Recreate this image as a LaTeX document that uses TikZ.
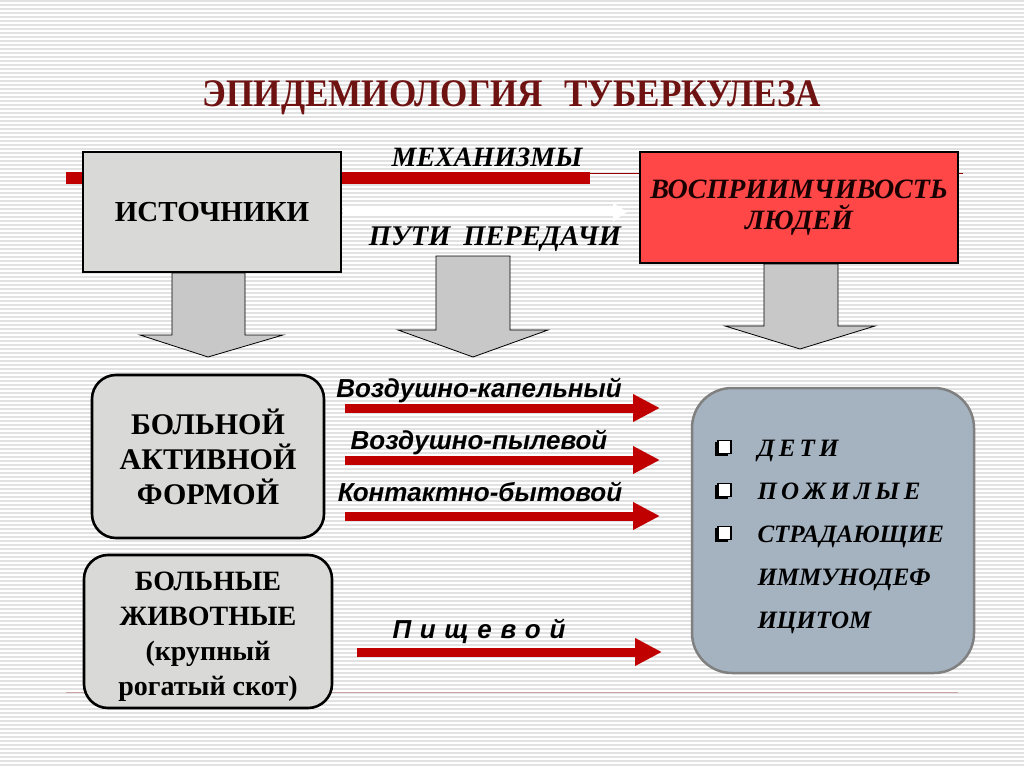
\documentclass[tikz,border=0pt]{standalone}
\usepackage{fontspec}
\setmainfont{Liberation Serif}
\newfontfamily\sansf{Liberation Sans}
\usetikzlibrary{arrows.meta,calc}
\definecolor{stripe}{HTML}{E2E2E2}
\definecolor{titlered}{HTML}{6E1212}
\definecolor{barred}{HTML}{C00000}
\definecolor{boxgray}{HTML}{D9D9D7}
\definecolor{hotred}{HTML}{FF4747}
\definecolor{bluegray}{HTML}{A5B3C1}
\definecolor{blueedge}{HTML}{808080}
\definecolor{blockgray}{HTML}{C8C8C8}
\definecolor{thinline}{HTML}{C9A5A5}
\tikzset{
  srcbox/.style={draw=black, line width=2.6pt, fill=boxgray, font=\bfseries\fontsize{29}{34}\selectfont, align=center},
  rbox/.style={draw=black, line width=2.6pt, fill=boxgray, rounded corners=24pt, align=center},
  blockarrow/.style={draw=black, line width=0.8pt, fill=blockgray},
  redarrow/.style={draw=barred, line width=9pt, -{Triangle[length=27pt,width=26pt]}},
  routelbl/.style={font=\sansf\bfseries\itshape\fontsize{26}{30}\selectfont, anchor=base},
  listtxt/.style={font=\bfseries\itshape\fontsize{25}{30}\selectfont, anchor=base west},
  bulletbox/.style={draw=black, line width=1.2pt, fill=white, minimum size=13pt, inner sep=0pt}
}
\begin{document}
\begin{tikzpicture}[x=1pt,y=-1pt]
\useasboundingbox (0,0) rectangle (1024,767);
\fill[white] (0,0) rectangle (1024,767);
\foreach \yy in {1,5,...,767} { \draw[stripe, line width=1.7pt] (0,\yy) -- (1024,\yy); }

% title
\node[anchor=base, text=titlered, font=\bfseries\fontsize{39}{44}\selectfont] (title) at (512,107)
  {\scalebox{0.9}[1]{ЭПИДЕМИОЛОГИЯ\hspace{0.6em}ТУБЕРКУЛЕЗА}};

% mechanism lines
\coordinate (barL) at (66,174);
\coordinate (barM) at (590,178);
\coordinate (thinR) at (963,174);
\draw[barred!80!black, line width=1pt] (barL) -- (thinR);
\draw[barred, line width=12pt] (66,178) -- (barM);

% top boxes
\node[srcbox, minimum width=258pt, minimum height=120pt] (src) at (212,212) {ИСТОЧНИКИ};
\node[draw=black, line width=2.6pt, fill=hotred, minimum width=318pt, minimum height=111pt, align=center,
      font=\bfseries\itshape\fontsize{28}{31}\selectfont, text=black!90!red] (susc) at (799,207.5)
      {ВОСПРИИМЧИВОСТЬ\\ЛЮДЕЙ};

% white arrow
\coordinate (wa) at (343,212);
\coordinate (wb) at (627,212);
\draw[white, line width=8pt, -{Triangle[length=14pt,width=18pt]}] (wa) -- (wb);

\node[anchor=base, font=\bfseries\itshape\fontsize{28}{30}\selectfont] (mech) at (487,167) {МЕХАНИЗМЫ};
\node[anchor=base, font=\bfseries\itshape\fontsize{28.5}{30}\selectfont] (paths) at (495,245) {ПУТИ\hspace{0.45em}ПЕРЕДАЧИ};

% block arrows
\draw[blockarrow] (172,273) -- (245,273) -- (245,335) -- (283,335) -- (208,357) -- (140,335) -- (172,335) -- cycle;
\draw[blockarrow] (436,256) -- (510,256) -- (510,330) -- (548,330) -- (473,357) -- (398,330) -- (436,330) -- cycle;
\draw[blockarrow] (764,264) -- (838,264) -- (838,326) -- (875,326) -- (800,349) -- (725,326) -- (764,326) -- cycle;

% thin line bottom
\coordinate (tlL) at (66,692);
\coordinate (tlR) at (958,692);
\draw[thinline, line width=1pt] (tlL) -- (tlR);

% source boxes
\node[rbox, minimum width=232pt, minimum height=163pt, font=\bfseries\fontsize{30}{35}\selectfont] (active) at (208,456.5)
  {БОЛЬНОЙ\\АКТИВНОЙ\\ФОРМОЙ};
\node[rbox, minimum width=248pt, minimum height=153pt] (animals) at (208,631.5) {};
\node[align=center, font=\bfseries\fontsize{28}{35}\selectfont] (animalstxt) at (208,637)
  {БОЛЬНЫЕ\\ЖИВОТНЫЕ\\(крупный\\рогатый скот)};

% target box
\node[draw=blueedge, line width=2.5pt, fill=bluegray, rounded corners=40pt, minimum width=282pt, minimum height=285pt] (target) at (833,530.5) {};

% red arrows
\coordinate (r1a) at (345,408); \coordinate (r1b) at (660,408);
\coordinate (r2a) at (345,460); \coordinate (r2b) at (660,460);
\coordinate (r3a) at (345,516); \coordinate (r3b) at (660,516);
\coordinate (r4a) at (357,652); \coordinate (r4b) at (662,652);
\draw[redarrow] (r1a) -- (r1b);
\draw[redarrow] (r2a) -- (r2b);
\draw[redarrow] (r3a) -- (r3b);
\draw[redarrow] (r4a) -- (r4b);
\node[routelbl] (l1) at (479,397) {Воздушно-капельный};
\node[routelbl] (l2) at (479,449) {Воздушно-пылевой};
\node[routelbl] (l3) at (480,501) {Контактно-бытовой};
\node[routelbl] (l4) at (479,638) {П\,\,и\,\,щ\,\,е\,\,в\,\,о\,\,й};

% list
\foreach \nm/\yy in {b1/447, b2/490, b3/533} {
  \fill[black] (723-8.5,\yy-5) rectangle (723+5,\yy+8.5);
  \node[bulletbox] (\nm) at (724.5,\yy) {};
}
\node[listtxt] (t1) at (754,456) {Д\,Е\,Т\,И};
\node[listtxt] (t2) at (754,499) {П\,О\,Ж\,И\,Л\,Ы\,Е};
\node[listtxt] (t3) at (754,542) {СТРАДАЮЩИЕ};
\node[listtxt] (t4) at (754,585) {ИММУНОДЕФ};
\node[listtxt] (t5) at (754,628) {ИЦИТОМ};
\end{tikzpicture}
\end{document}
